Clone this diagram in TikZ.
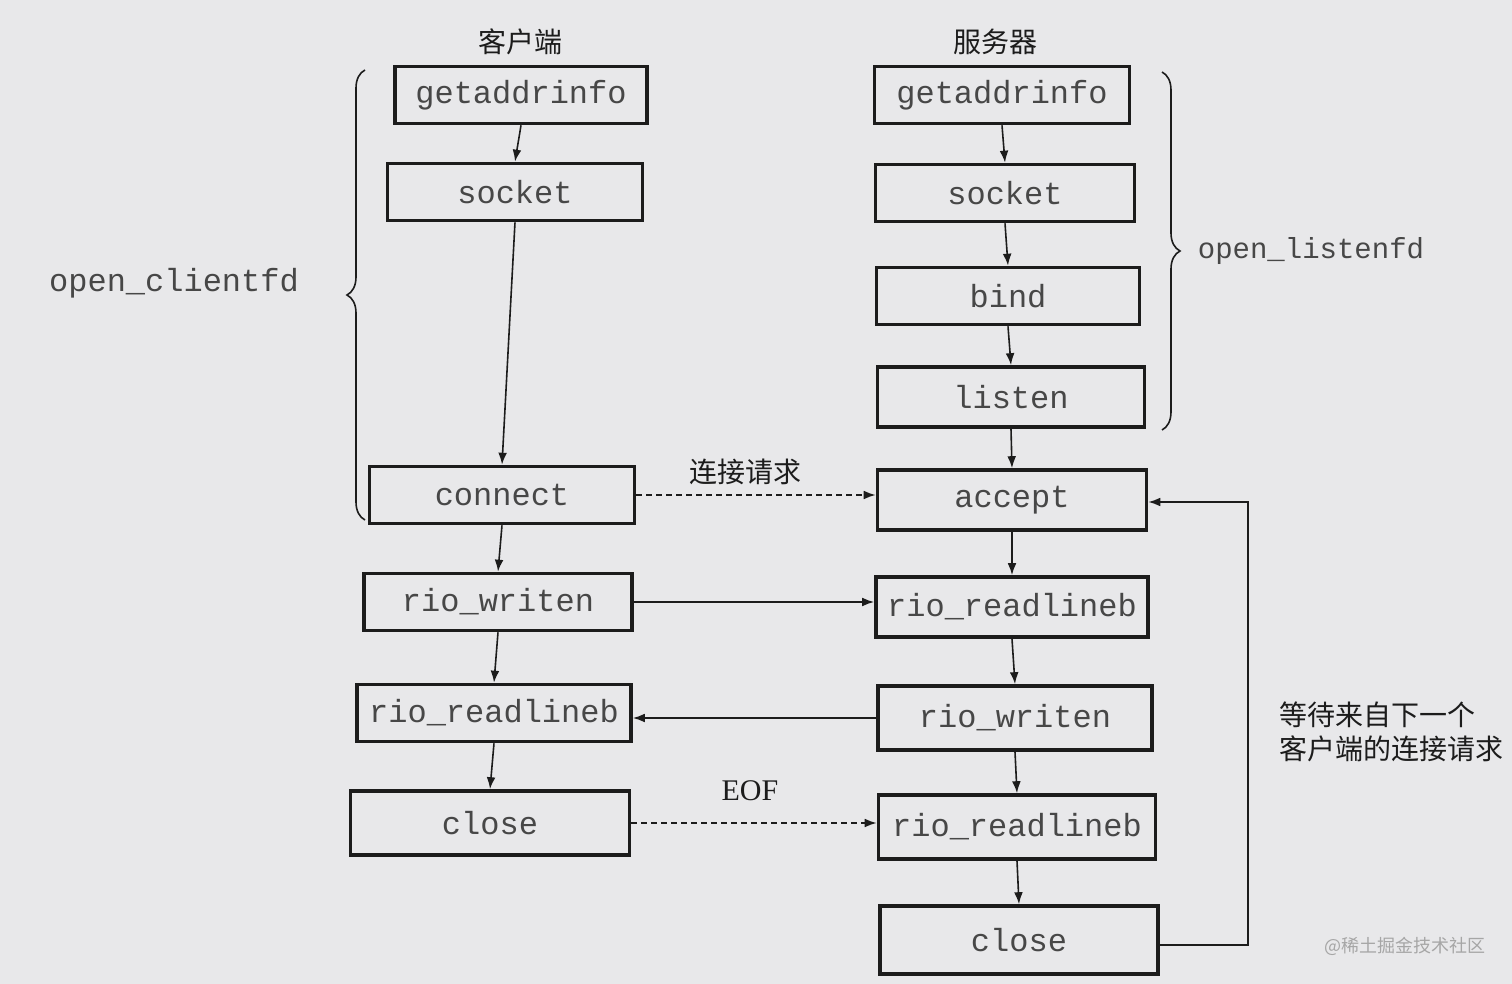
\documentclass[tikz,border=0pt]{standalone}
\usepackage{fontspec}
\setmainfont{Liberation Serif}
\newfontfamily\monof{Liberation Mono}
\newfontfamily\cjk{Noto Sans CJK SC}
\usetikzlibrary{arrows.meta,decorations.pathreplacing}
\definecolor{bgc}{HTML}{E8E8EA}
\definecolor{inkc}{HTML}{1C1C1C}
\definecolor{txtc}{HTML}{474747}
\tikzset{
  fnbox/.style={draw=inkc,line width=1.8pt,minimum height=28.5pt,inner sep=0pt,
     font=\monof\fontsize{16}{18}\selectfont,text=txtc},
  arr/.style={draw=inkc,line width=0.8pt,-{Latex[length=6pt,width=4.4pt]}},
  darr/.style={arr,dash pattern=on 3pt off 2pt},
  cjklab/.style={font=\cjk\fontsize{14}{17}\selectfont,text=inkc},
  fnlab/.style={font=\monof\fontsize{16}{18}\selectfont,text=txtc},
  bracestyle/.style={draw=inkc,line width=0.8pt,decorate,decoration={brace,amplitude=9pt}}
}
\begin{document}
\begin{tikzpicture}[x=0.5pt,y=-0.5pt]
\fill[bgc] (0,0) rectangle (1512,984);
\useasboundingbox (0,0) rectangle (1512,984);
% headings
\node[cjklab] (hc) at (520,42) {客户端};
\node[cjklab] (hs) at (995,42) {服务器};
% client column
\node[fnbox,minimum width=126pt] (cg) at (521,95) {getaddrinfo};
\node[fnbox,minimum width=127.5pt] (cs) at (515,192) {socket};
\node[fnbox,minimum width=132.5pt] (cc) at (502,495) {connect};
\node[fnbox,minimum width=134pt] (cw) at (498,602) {rio\_writen};
\node[fnbox,minimum width=137pt] (cr) at (494,713) {rio\_readlineb};
\node[fnbox,minimum width=139.5pt,minimum height=32pt] (cx) at (490,823) {close};
% server column
\node[fnbox,minimum width=127.5pt] (sg) at (1002,95) {getaddrinfo};
\node[fnbox,minimum width=129.5pt] (ss) at (1005,193) {socket};
\node[fnbox,minimum width=131.5pt] (sb) at (1008,296) {bind};
\node[fnbox,minimum width=133.5pt,minimum height=30pt] (sl) at (1011,397) {listen};
\node[fnbox,minimum width=134.5pt,minimum height=30pt] (sa) at (1012,500) {accept};
\node[fnbox,minimum width=136pt,minimum height=30pt] (sr) at (1012,607) {rio\_readlineb};
\node[fnbox,minimum width=137pt,minimum height=32pt] (sw) at (1015,718) {rio\_writen};
\node[fnbox,minimum width=138.5pt,minimum height=32pt] (sr2) at (1017,827) {rio\_readlineb};
\node[fnbox,minimum width=139pt,minimum height=34pt] (sx) at (1019,940) {close};
% vertical arrows
\draw[arr] (cg.south) -- (cs.north);
\draw[arr] (cs.south) -- (cc.north);
\draw[arr] (cc.south) -- (cw.north);
\draw[arr] (cw.south) -- (cr.north);
\draw[arr] (cr.south) -- (cx.north);
\draw[arr] (sg.south) -- (ss.north);
\draw[arr] (ss.south) -- (sb.north);
\draw[arr] (sb.south) -- (sl.north);
\draw[arr] (sl.south) -- (sa.north);
\draw[arr] (sa.south) -- (sr.north);
\draw[arr] (sr.south) -- (sw.north);
\draw[arr] (sw.south) -- (sr2.north);
\draw[arr] (sr2.south) -- (sx.north);
% horizontal arrows
\draw[darr] (cc.east) -- (cc.east -| sa.west);
\node[cjklab] (lreq) at (745,472) {连接请求};
\draw[arr] (cw.east) -- (cw.east -| sr.west);
\draw[arr] (sw.west) -- (sw.west -| cr.east);
\draw[darr] (cx.east) -- (cx.east -| sr2.west);
\node[font=\fontsize{15}{18}\selectfont,text=inkc] (leof) at (750,791) {EOF};
% loop back
\coordinate (lb) at (1248,945);
\coordinate (lt) at (1248,502);
\draw[arr] (sx.east |- lb) -- (lb) -- (lt) -- (sa.east |- lt);
\node[cjklab,align=left,anchor=west] (lwait) at (1272,732) {等待来自下一个\\客户端的连接请求};
% braces
\draw[bracestyle] (365,520) -- (365,70);
\node[fnlab] (loc) at (174,283) {open\_clientfd};
\draw[bracestyle] (1162,72) -- (1162,430);
\node[fnlab,font=\monof\fontsize{14.5}{17}\selectfont] (lol) at (1311,251) {open\_listenfd};
% watermark
\node[font=\cjk\fontsize{9}{11}\selectfont,text=gray!70] (wm) at (1405,946) {@稀土掘金技术社区};
\end{tikzpicture}
\end{document}
